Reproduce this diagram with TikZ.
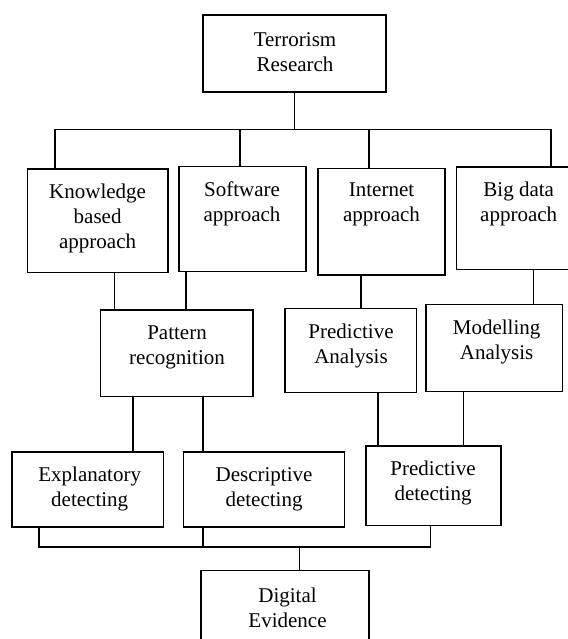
\documentclass[tikz,border=0pt]{standalone}
\usepackage{fontspec}
\setmainfont{Liberation Serif}
\begin{document}
\begin{tikzpicture}[x=1pt, y=-1pt, line width=1.3pt,
  box/.style={draw, inner sep=0pt},
  lbl/.style={font=\fontsize{21}{25}\selectfont, align=center, inner sep=0pt}]
\useasboundingbox (0,0) rectangle (567,639);
% Top
\node[box, minimum width=183, minimum height=77] (tr) at (294.5,53.5) {};
\node[lbl] (tr-t) at (295,52.5) {Terrorism\\Research};
% Approaches
\node[box, minimum width=140.5, minimum height=103.3] (kb) at (97.75,220.6) {};
\node[lbl] (kb-t) at (97.6,218) {Knowledge\\based\\approach};
\node[box, minimum width=127, minimum height=105] (sw) at (242.5,219.2) {};
\node[lbl] (sw-t) at (242,204.2) {Software\\approach};
\node[box, minimum width=127, minimum height=106.7] (ia) at (381.5,221.6) {};
\node[lbl] (ia-t) at (381.5,204.2) {Internet\\approach};
\node[box, minimum width=124.5, minimum height=102.3] (bd) at (518.75,218.2) {};
\node[lbl] (bd-t) at (518.7,204.2) {Big data\\approach};
% Analysis
\node[box, minimum width=152.5, minimum height=86.7] (pr) at (176.75,353.35) {};
\node[lbl] (pr-t) at (177,347.8) {Pattern\\recognition};
\node[box, minimum width=131.6, minimum height=84.4] (pa) at (350.8,350.5) {};
\node[lbl] (pa-t) at (351,345.8) {Predictive\\Analysis};
\node[box, minimum width=136.4, minimum height=87.4] (ma) at (494.2,348) {};
\node[lbl] (ma-t) at (496.6,341.7) {Modelling\\Analysis};
% Detecting
\node[box, minimum width=151.5, minimum height=75] (ed) at (87.75,489.5) {};
\node[lbl] (ed-t) at (89.7,489.2) {Explanatory\\detecting};
\node[box, minimum width=161.3, minimum height=75] (dd) at (264,489.5) {};
\node[lbl] (dd-t) at (264,489.2) {Descriptive\\detecting};
\node[box, minimum width=135, minimum height=79.3] (pd) at (433.5,485.6) {};
\node[lbl] (pd-t) at (433,483.3) {Predictive\\detecting};
% Evidence
\node[box, minimum width=168, minimum height=89.3] (de) at (285,615.35) {};
\node[lbl] (de-t) at (287.5,608.3) {Digital\\Evidence};
% Top bus
\coordinate (b1) at (55,129.5);
\coordinate (b2) at (551,129.5);
\draw (tr.south) -- (tr.south |- b1);
\draw (b1) -- (b2);
\draw (b1) -- (b1 |- kb.north);
\draw (240,129.5) -- (240,0 |- sw.north);
\draw (369,129.5) -- (369,0 |- ia.north);
\draw (b2) -- (b2 |- bd.north);
% Middle links
\draw (114.6,0 |- kb.south) -- (114.6,0 |- pr.north);
\draw (186,0 |- sw.south) -- (186,0 |- pr.north);
\draw (361,0 |- ia.south) -- (361,0 |- pa.north);
\draw (533.5,0 |- bd.south) -- (533.5,0 |- ma.north);
\draw (133,0 |- pr.south) -- (133,0 |- ed.north);
\draw (203,0 |- pr.south) -- (203,0 |- dd.north);
\draw (378,0 |- pa.south) -- (378,0 |- pd.north);
\draw (463.6,0 |- ma.south) -- (463.6,0 |- pd.north);
% Bottom bus
\coordinate (c1) at (39,547);
\coordinate (c2) at (430.4,547);
\draw (c1 |- ed.south) -- (c1) -- (c2) -- (c2 |- pd.south);
\draw (203,0 |- dd.south) -- (203,547);
\draw (299.5,547) -- (299.5,0 |- de.north);
\end{tikzpicture}
\end{document}
